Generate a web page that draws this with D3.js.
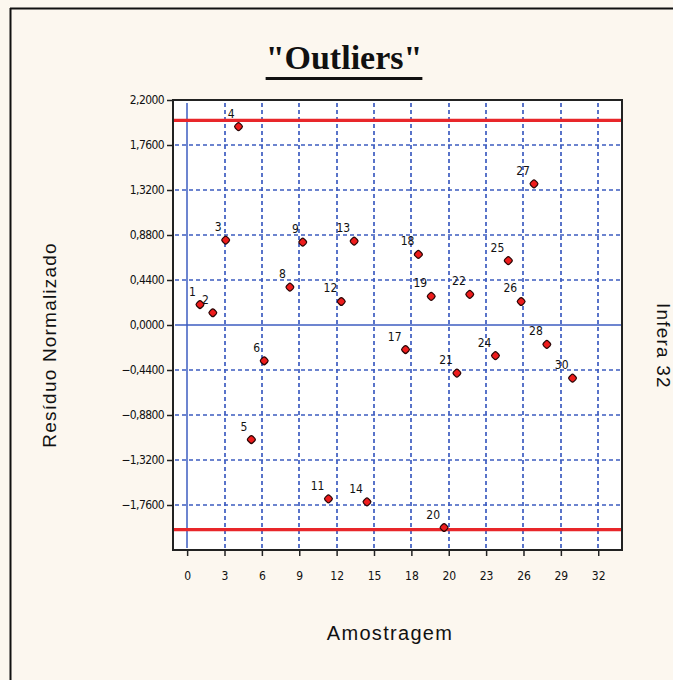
<!DOCTYPE html>
<html>
<head>
<meta charset="utf-8">
<script src="https://cdn.jsdelivr.net/npm/d3@7"></script>
<style>
  body { margin: 0; background: #fcf7ef; }
</style>
</head>
<body>
<div id="drawing"></div>
<script>
// Data
const samples = [1, 2, 3, 4, 5, 6, 8, 9, 11, 12, 13, 14, 17, 18, 19, 20, 21, 22, 24, 25, 26, 27, 28, 30];
const residuals = [0.20, 0.12, 0.83, 1.94, -1.12, -0.35, 0.37, 0.81, -1.70, 0.23, 0.82, -1.73,
  -0.24, 0.69, 0.28, -1.98, -0.47, 0.30, -0.30, 0.63, 0.23, 1.38, -0.19, -0.52];
const yTicks = [-1.76, -1.32, -0.88, -0.44, 0, 0.44, 0.88, 1.32, 1.76, 2.2];
const xTickLabels = ["0", "3", "6", "9", "12", "15", "18", "20", "23", "26", "29", "32"];
const limits = [2, -2];

const svgWidth = 673;
const svgHeight = 680;

const svg = d3.select("#drawing")
  .append("svg")
  .attr("width", svgWidth)
  .attr("height", svgHeight);

// background + outer frame (only top/left edges show)
svg.append("rect").attr("width", svgWidth).attr("height", svgHeight).attr("fill", "#fcf7ef");
svg.append("line").attr("x1", 10).attr("y1", 8.5).attr("x2", svgWidth).attr("y2", 8.5)
  .attr("stroke", "#111").attr("stroke-width", 2);
svg.append("line").attr("x1", 10.5).attr("y1", 8).attr("x2", 10.5).attr("y2", svgHeight)
  .attr("stroke", "#111").attr("stroke-width", 2);

// plot box
const box = {left: 173, top: 100, right: 622, bottom: 550};

const x = d3.scaleLinear().domain([-1.1, 33.85]).range([box.left, box.right]);
const y = d3.scaleLinear().domain([-2.2, 2.2]).range([box.bottom, box.top]);

// x ticks evenly spaced from 0 to 32, labels as shown
const xTickVals = xTickLabels.map((d, i) => i * 32 / (xTickLabels.length - 1));

svg.append("rect")
  .attr("x", box.left).attr("y", box.top)
  .attr("width", box.right - box.left).attr("height", box.bottom - box.top)
  .attr("fill", "#fff");

const grid = svg.append("g");
const gridColor = "#3d5cc0";

// vertical grid
grid.selectAll(".vg")
  .data(xTickVals)
  .enter()
  .append("line")
  .attr("x1", d => Math.round(x(d)))
  .attr("x2", d => Math.round(x(d)))
  .attr("y1", box.top + 3)
  .attr("y2", box.bottom - 2)
  .attr("stroke", gridColor)
  .attr("stroke-width", d => d === 0 ? 1.5 : 1.7)
  .attr("stroke-dasharray", d => d === 0 ? null : "4,3");

// horizontal grid
grid.selectAll(".hg")
  .data(yTicks.filter(d => d < 2.2))
  .enter()
  .append("line")
  .attr("x1", box.left + 2)
  .attr("x2", box.right - 1)
  .attr("y1", d => Math.round(y(d)))
  .attr("y2", d => Math.round(y(d)))
  .attr("stroke", gridColor)
  .attr("stroke-width", d => d === 0 ? 1.5 : 1.7)
  .attr("stroke-dasharray", d => d === 0 ? null : "4,3");

// limit lines
svg.selectAll(".limit")
  .data(limits)
  .enter()
  .append("line")
  .attr("x1", box.left + 1)
  .attr("x2", box.right - 1)
  .attr("y1", d => y(d))
  .attr("y2", d => y(d))
  .attr("stroke", "#e8262a")
  .attr("stroke-width", 3.2);

// frame
svg.append("rect")
  .attr("x", box.left).attr("y", box.top)
  .attr("width", box.right - box.left).attr("height", box.bottom - box.top)
  .attr("fill", "none").attr("stroke", "#222").attr("stroke-width", 2);

// axes
const tickFont = "'DejaVu Sans Condensed', 'Liberation Sans Narrow', Arial, sans-serif";

const yAxis = svg.append("g")
  .attr("transform", `translate(${box.left - 1},0)`)
  .call(d3.axisLeft(y).tickValues(yTicks).tickSize(5).tickPadding(3)
    .tickFormat(d => d3.format(".4f")(d).replace(".", ",").replace("-", "\u2212")));
yAxis.select(".domain").remove();
yAxis.selectAll("line").attr("stroke", "#222").attr("stroke-width", 1.5);
yAxis.selectAll("text").attr("font-family", tickFont).attr("font-size", 12).attr("fill", "#111")
  .attr("letter-spacing", "-0.6");

const xAxis = svg.append("g")
  .attr("transform", `translate(0,${box.bottom + 1})`)
  .call(d3.axisBottom(x).tickValues(xTickVals).tickSize(5).tickPadding(15)
    .tickFormat((d, i) => xTickLabels[i]));
xAxis.select(".domain").remove();
xAxis.selectAll("line").attr("stroke", "#222").attr("stroke-width", 1.5);
xAxis.selectAll("text").attr("font-family", tickFont).attr("font-size", 12).attr("fill", "#111");

// points
const pts = samples.map((s, i) => ({s: s, v: residuals[i]}));

svg.selectAll(".pt")
  .data(pts)
  .enter()
  .append("rect")
  .attr("x", -3.3).attr("y", -3.3)
  .attr("width", 6.6).attr("height", 6.6)
  .attr("rx", 2)
  .attr("transform", d => `translate(${x(d.s)},${y(d.v)}) rotate(45)`)
  .attr("fill", "#ee1c1c")
  .attr("stroke", "#2a0505")
  .attr("stroke-width", 1.2);

svg.selectAll(".lbl")
  .data(pts)
  .enter()
  .append("text")
  .attr("x", d => x(d.s) - 4)
  .attr("y", d => y(d.v) - 9)
  .attr("text-anchor", "end")
  .attr("font-family", tickFont)
  .attr("font-size", 12)
  .attr("fill", "#111")
  .text(d => d.s);

// title
const title = svg.append("text")
  .attr("x", 344)
  .attr("y", 69)
  .attr("text-anchor", "middle")
  .attr("font-family", "'Liberation Serif', 'Times New Roman', serif")
  .attr("font-weight", "bold")
  .attr("font-size", 34)
  .attr("fill", "#111")
  .text('"Outliers"');
const tw = title.node().getComputedTextLength();
svg.append("line")
  .attr("x1", 344 - tw / 2).attr("x2", 344 + tw / 2)
  .attr("y1", 78.5).attr("y2", 78.5)
  .attr("stroke", "#111").attr("stroke-width", 3);

// axis titles
const labelFont = "'Liberation Sans', Arial, sans-serif";
svg.append("text")
  .attr("x", 390).attr("y", 640)
  .attr("text-anchor", "middle")
  .attr("font-family", labelFont).attr("font-size", 20).attr("fill", "#111")
  .attr("letter-spacing", "1.3")
  .text("Amostragem");

svg.append("text")
  .attr("transform", "translate(56,345) rotate(-90)")
  .attr("text-anchor", "middle")
  .attr("font-family", labelFont).attr("font-size", 19).attr("fill", "#111")
  .attr("letter-spacing", "1.2")
  .text("Resíduo Normalizado");

svg.append("text")
  .attr("transform", "translate(657,346) rotate(90)")
  .attr("text-anchor", "middle")
  .attr("font-family", labelFont).attr("font-size", 19).attr("fill", "#111")
  .attr("letter-spacing", "1.2")
  .text("Infera 32");
</script>
</body>
</html>
